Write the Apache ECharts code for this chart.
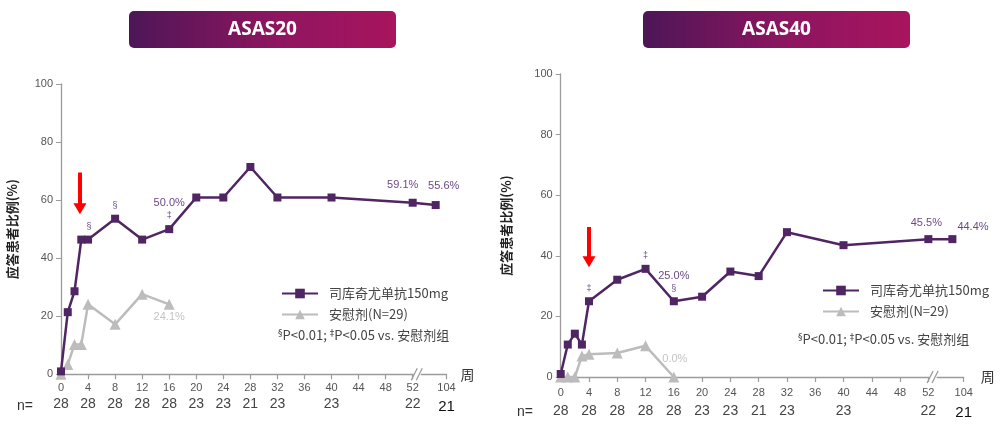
<!DOCTYPE html>
<html><head><meta charset="utf-8">
<script src="https://cdn.jsdelivr.net/npm/echarts@6/dist/echarts.min.js"></script>
<style>html,body{margin:0;padding:0;background:#fff}#c{width:1002px;height:428px}</style>
</head><body><div id="c"></div>
<script>
// ---------- DATA ----------
const titles = ['ASAS20', 'ASAS40'];
const seriesNames = ['司库奇尤单抗150mg', '安慰剂(N=29)'];
const drugWeeks = [0, 1, 2, 3, 4, 8, 12, 16, 20, 24, 28, 32, 40, 52, 104];
const placeboWeeks = [0, 1, 2, 3, 4, 8, 12, 16];
const asas20Drug = [1, 21.4, 28.6, 46.4, 46.4, 53.6, 46.4, 50.0, 60.9, 60.9, 71.4, 60.9, 60.9, 59.1, 58.3];
const asas20Placebo = [0, 3.4, 10.3, 10.3, 24.1, 17.2, 27.6, 24.1];
const asas40Drug = [1, 10.7, 14.3, 10.7, 25.0, 32.1, 35.7, 25.0, 26.5, 34.8, 33.3, 47.8, 43.5, 45.5, 45.5];
const asas40Placebo = [0, 0, 0, 6.9, 7.5, 7.9, 10.3, 0];
const asas20DrugNotes = ['', '', '', '', '§', '§', '', '50.0%\n‡', '', '', '', '', '', '59.1%', '55.6%'];
const asas40DrugNotes = ['', '', '', '', '‡', '', '‡', '25.0%\n§', '', '', '', '', '', '45.5%', '44.4%'];
const asas20PlaceboNotes = ['', '', '', '', '', '', '', '24.1%'];
const asas40PlaceboNotes = ['', '', '', '', '', '', '', '0.0%'];
const tickWeeks = [0, 4, 8, 12, 16, 20, 24, 28, 32, 36, 40, 44, 48, 52, 104];
const nCounts = ['28', '28', '28', '28', '28', '23', '23', '21', '23', '', '23', '', '', '22', '21'];
const yAxisTitle = '应答患者比例(%)';
const xAxisTitle = '周';
const footnote = ['§', 'P<0.01; ', '‡', 'P<0.05 vs. 安慰剂组'];
const arrowWeek = [2.8, 4.0];
const arrowFromTo = [[69.5, 57], [49.5, 38]];

// ---------- LAYOUT / STYLE ----------
const PURPLE = '#4f2563', GREY = '#bcbcbc', AXIS = '#9c9c9c';
const CJK = '"Noto Sans CJK SC","Liberation Sans",sans-serif';
const NUM = '"Liberation Sans","Noto Sans",sans-serif';
// broken axis: weeks after 52 are compressed
const TICK_104 = 57, DATA_104 = 55.4;
const tickPos = w => (w <= 52 ? w : TICK_104);
const dataPos = w => (w <= 52 ? w : DATA_104);
const grids = [
  { left: 61, top: 84, width: 385.5, height: 290.3 },
  { left: 560.7, top: 74, width: 403, height: 303 }
];

function noteFmt(note) {
  if (!note) return '';
  return note.split('\n').map(s => /%/.test(s) ? '{p|' + s + '}' : '{s|' + s + '}').join('\n');
}
function buildData(weeks, vals, notes, adj) {
  return weeks.map((w, i) => {
    const item = { value: [dataPos(w), vals[i]] };
    if (notes[i]) {
      item.label = { show: true, formatter: noteFmt(notes[i]), position: 'top', distance: 3 };
      if (adj && adj[i]) Object.assign(item.label, adj[i]);
    }
    return item;
  });
}
const labelRich = (c) => ({
  p: { fontSize: 11, color: c, fontFamily: NUM, lineHeight: 13 },
  s: { fontSize: 9, color: c, fontFamily: NUM, lineHeight: 12 }
});

const drugSets = [asas20Drug, asas40Drug];
const drugNotes = [asas20DrugNotes, asas40DrugNotes];
const placSets = [asas20Placebo, asas40Placebo];
const placNotes = [asas20PlaceboNotes, asas40PlaceboNotes];
const drugLabelAdj = [
  { 4: { offset: [1, 0] }, 7: { offset: [0, -1] }, 13: { offset: [-10, -4] }, 14: { offset: [8, -6] } },
  { 13: { offset: [-2, -3] }, 14: { position: 'right', offset: [-2, -12] } }
];
const placLabelAdj = [
  { 7: { position: 'bottom', offset: [0, -2] } },
  { 7: { position: 'top', offset: [1, -3] } }
];

const xAxes = [], yAxes = [], series = [];
const tickVals = tickWeeks.map(tickPos);
grids.forEach((g, gi) => {
  const lh = gi === 0 ? 16 : 19;
  xAxes.push({
    type: 'value', gridIndex: gi, min: 0, max: TICK_104,
    name: xAxisTitle, nameLocation: 'end', nameGap: gi === 0 ? 14 : 17,
    nameTextStyle: { fontSize: 14, color: '#333', fontFamily: CJK, verticalAlign: 'middle' },
    axisLine: { show: true, lineStyle: { color: AXIS, width: 1.3 } },
    axisTick: { show: true, customValues: tickVals, length: 5, lineStyle: { color: AXIS, width: 1.2 } },
    splitLine: { show: false },
    axisLabel: {
      customValues: tickVals, margin: 6,
      formatter: (v) => {
        const idx = tickVals.indexOf(v);
        const n = nCounts[idx];
        const last = idx === tickVals.length - 1;
        return '{t|' + tickWeeks[idx] + '}\n' + (n ? (last ? '{m|' + n + '}' : '{n|' + n + '}') : '{n| }');
      },
      rich: {
        t: { fontSize: 11, color: '#555', fontFamily: NUM, lineHeight: lh },
        n: { fontSize: 14, color: '#444', fontFamily: NUM, lineHeight: lh },
        m: { fontSize: 15, color: '#111', fontFamily: NUM, lineHeight: lh, padding: [gi === 0 ? 6 : 2, 0, 0, 0] }
      }
    }
  });
  yAxes.push({
    type: 'value', gridIndex: gi, min: 0, max: 100, interval: 20,
    name: yAxisTitle, nameLocation: 'middle', nameRotate: 90, nameGap: gi === 0 ? 42 : 48,
    nameTextStyle: { fontSize: 13, fontWeight: 'bold', color: '#222', fontFamily: CJK },
    axisLine: { show: true, lineStyle: { color: AXIS, width: 1.3 } },
    axisTick: { show: true, length: 5, lineStyle: { color: AXIS } },
    splitLine: { show: false },
    axisLabel: { fontSize: 11, color: '#555', fontFamily: NUM, margin: 8 }
  });
  series.push({
    name: seriesNames[1], type: 'line', xAxisIndex: gi, yAxisIndex: gi,
    data: buildData(placeboWeeks, placSets[gi], placNotes[gi], placLabelAdj[gi]),
    symbol: 'triangle', symbolSize: 11, z: 2,
    lineStyle: { color: GREY, width: 2.5 }, itemStyle: { color: GREY },
    label: { rich: labelRich('#c4c4c4') }
  });
  series.push({
    name: seriesNames[0], type: 'line', xAxisIndex: gi, yAxisIndex: gi,
    data: buildData(drugWeeks, drugSets[gi], drugNotes[gi], drugLabelAdj[gi]),
    symbol: 'rect', symbolSize: 8, z: 3,
    lineStyle: { color: PURPLE, width: 2.5 }, itemStyle: { color: PURPLE },
    label: { rich: labelRich('#6a4a84') },
    markLine: {
      silent: true, animation: false, symbol: ['none', 'triangle'], symbolSize: [13, 11],
      label: { show: false },
      lineStyle: { color: '#ff0000', width: 4, type: 'solid' },
      emphasis: { disabled: true },
      data: [[{ coord: [arrowWeek[gi], arrowFromTo[gi][0]] }, { coord: [arrowWeek[gi], arrowFromTo[gi][1]] }]]
    }
  });
});

const legends = [
  { left: 276, top: 282 }, { left: 817, top: 279 }
].map((p) => ({
  left: p.left, top: p.top, orient: 'vertical', itemGap: 8, itemWidth: 36, itemHeight: 12,
  data: [seriesNames[0], seriesNames[1]],
  textStyle: { fontSize: 13, color: '#444', fontFamily: CJK, padding: [0, 0, 0, 6] },
  selectedMode: false
}));

function titleBox(x, text) {
  return {
    type: 'group', left: x, top: 11, children: [
      { type: 'rect', shape: { x: 0, y: 0, width: 267, height: 37, r: 5 },
        style: { fill: new echarts.graphic.LinearGradient(0, 0, 1, 0, [
          { offset: 0, color: '#4d1657' }, { offset: 0.55, color: '#8e1560' }, { offset: 1, color: '#a9145e' }]) } },
      { type: 'text', x: 133.5, y: 18.5, style: { text: text, fill: '#fff', font: 'bold 19px "Open Sans", sans-serif', textAlign: 'center', textVerticalAlign: 'middle' } }
    ]
  };
}
function footText(x, y) {
  return { type: 'text', left: x, top: y, style: {
    text: '{sup|' + footnote[0] + '}{b|' + footnote[1] + '}{sup|' + footnote[2] + '}{b|' + footnote[3] + '}',
    rich: { b: { fontSize: 13, fill: '#444', fontFamily: CJK }, sup: { fontSize: 9, fill: '#444', verticalAlign: 'top', fontFamily: '"DejaVu Sans", sans-serif' } }
  } };
}

const chart = echarts.init(document.getElementById('c'), null, { renderer: 'canvas' });
chart.setOption({
  animation: false,
  backgroundColor: '#fff',
  grid: grids.map(g => Object.assign({ containLabel: false }, g)),
  xAxis: xAxes, yAxis: yAxes, legend: legends, series: series,
  graphic: [
    titleBox(129, titles[0]), titleBox(643, titles[1]),
    footText(278, 329), footText(798, 333),
    { type: 'text', left: 17, top: 399, style: { text: 'n=', font: '14px "Liberation Sans", sans-serif', fill: '#333' } },
    { type: 'text', left: 517, top: 405, style: { text: 'n=', font: '14px "Liberation Sans", sans-serif', fill: '#333' } }
  ]
});

// axis break marks "//" placed through the axis scale
const breaks = [];
[0, 1].forEach(gi => {
  const p = chart.convertToPixel({ gridIndex: gi }, [52.6, 0]);
  breaks.push({ type: 'rect', shape: { x: p[0] - 3, y: p[1] - 2, width: 7, height: 4 }, style: { fill: '#fff' }, z: 100 });
  [-2.5, 2.5].forEach(dx => breaks.push({ type: 'line', z: 101,
    shape: { x1: p[0] + dx - 3, y1: p[1] + 6, x2: p[0] + dx + 3, y2: p[1] - 6 },
    style: { stroke: AXIS, lineWidth: 1.3 } }));
});
chart.setOption({ graphic: chart.getOption().graphic[0].elements.concat(breaks) });
</script></body></html>
